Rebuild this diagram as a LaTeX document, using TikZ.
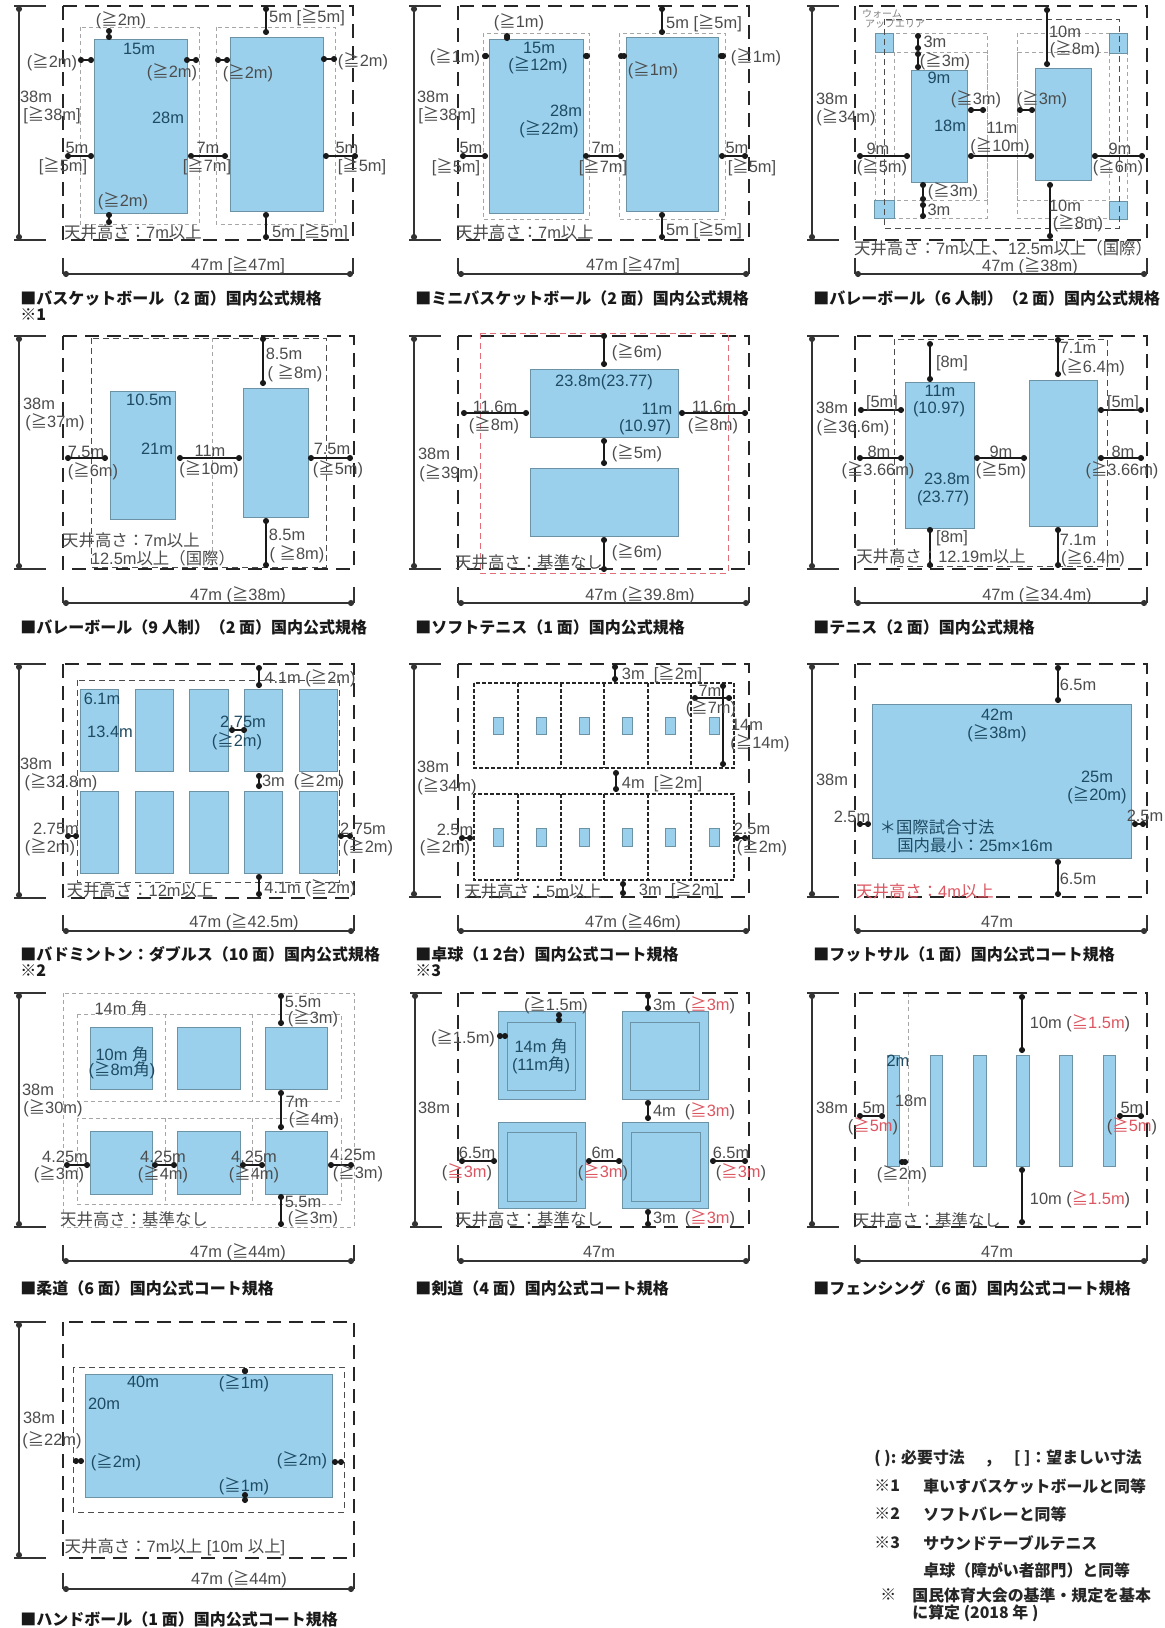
\documentclass[tikz,border=0pt]{standalone}
\usepackage{fontspec}
\setmainfont{Liberation Sans}
\newfontfamily\jpfont{Noto Sans CJK JP}
\usetikzlibrary{arrows.meta}
\tikzset{>={Circle[length=3pt,width=3pt]}}
\definecolor{courtblue}{HTML}{9AD0EC}
\definecolor{courtedge}{HTML}{6C92A6}
\definecolor{labgray}{HTML}{4C4C4C}
\definecolor{labdark}{HTML}{1E4A62}
\definecolor{labred}{HTML}{DC5560}
\newcommand{\J}[1]{{\jpfont #1}}
\newcommand{\GE}{{\jpfont ≧}}
\newcommand{\GM}[1]{(\GE #1)}
\newcommand{\GB}[1]{[\GE #1]}
\newcommand{\RED}[1]{\textcolor{labred}{#1}}
\newcommand{\CEIL}{\J{天井高さ：}}
\newcommand{\SCALES}[6]{%
  \draw[scaleline] (#1-5,#3) -- (#1+27,#3);
  \draw[scaleline] (#1-5,#5) -- (#1+27,#5);
  \draw[{>}-{>},scaleline] (#1,#3) -- (#1,#5);
  \draw[scaleline] (#2,#6-16) -- (#2,#6);
  \draw[scaleline] (#4,#6-16) -- (#4,#6);
  \draw[{>}-{>},scaleline] (#2,#6) -- (#4,#6);
}
\tikzset{
  outer/.style={draw=black!85,line width=.8pt,dash pattern=on 7pt off 4pt},
  inner/.style={draw=black!70,line width=.5pt,dash pattern=on 3pt off 2pt},
  cell/.style={draw=black!85,line width=.7pt,dash pattern=on 2pt off 1pt},
  soft/.style={draw=black!35,line width=.5pt,dash pattern=on 2pt off 1.6pt},
  redline/.style={draw=labred!85,line width=.5pt,dash pattern=on 3pt off 2pt},
  court/.style={fill=courtblue,draw=courtedge,line width=.4pt},
  scaleline/.style={draw=black!80,line width=.8pt},
  dimline/.style={draw=black!90,line width=.7pt,{>}-{>}},
  lab/.style={text=labgray,inner sep=0pt,font=\fontsize{8.2}{10}\selectfont},
  labin/.style={lab,text=labdark},
  labred/.style={lab,text=labred},
  tiny/.style={text=black!50,inner sep=0pt,font=\fontsize{5}{6}\selectfont\jpfont},
  caption/.style={anchor=west,inner sep=0pt,text=black!90,font=\fontsize{8}{9}\selectfont\jpfont\bfseries},
  note/.style={anchor=west,inner sep=0pt,text=black!85,font=\fontsize{7.95}{9}\selectfont\jpfont\bfseries},
}
\begin{document}
\begin{tikzpicture}[x=.5pt,y=-.5pt]
  \useasboundingbox (0,0) rectangle (1164,1628);
  \fill[white] (0,0) rectangle (1164,1628);

  %% basketball
  \draw[soft] (80,27) rectangle (199,224);
  \draw[soft] (216,27) rectangle (335,224);
  \draw[court] (94,39) rectangle (187,213);
  \draw[court] (230,37) rectangle (323,211);
  \draw[outer] (63,6) rectangle (353,240);
  \SCALES{19}{63}{6}{353}{240}{274}
  \draw[dimline] (109,28) -- (109,40);
  \draw[dimline] (78,60) -- (94,60);
  \draw[dimline] (184,60) -- (199,60);
  \draw[dimline] (215,60) -- (230,60);
  \draw[dimline] (321,59) -- (337,59);
  \draw[dimline] (266,6) -- (266,35);
  \draw[dimline] (266,212) -- (266,240);
  \draw[dimline] (65,156) -- (94,156);
  \draw[dimline] (188,156) -- (228,156);
  \draw[dimline] (323,156) -- (358,156);
  \draw[dimline] (109,212) -- (109,225);
  \node[lab] (b1) at (121,20) {\GM{2m}};
  \node[lab] (b2) at (52,62) {\GM{2m}};
  \node[lab] (b3) at (172,72) {\GM{2m}};
  \node[lab] (b4) at (248,73) {\GM{2m}};
  \node[lab] (b5) at (363,61) {\GM{2m}};
  \node[lab] (b6) at (307,17) {5m \GB{5m}};
  \node[lab] (b7) at (310,232) {5m \GB{5m}};
  \node[lab] (b8) at (77,148) {5m};
  \node[lab] (b9) at (63,166) {\GB{5m}};
  \node[lab] (b10) at (208,148) {7m};
  \node[lab] (b11) at (207,166) {\GB{7m}};
  \node[lab] (b12) at (347,148) {5m};
  \node[lab] (b13) at (362,166) {\GB{5m}};
  \node[lab] (b14) at (123,201) {\GM{2m}};
  \node[labin] (b15) at (139,49) {15m};
  \node[labin] (b16) at (168,118) {28m};
  \node[lab] (b17) at (36,97) {38m};
  \node[lab] (b18) at (52,115) {\GB{38m}};
  \node[lab] (b19) at (133,232) {\CEIL 7m\J{以上}};
  \node[lab] (b20) at (238,265) {47m \GB{47m}};
  \node[caption] (b21) at (20,298) {■バスケットボール（2 面）国内公式規格};
  \node[caption] (b22) at (20,315) {※1};

  %% mini basketball
  \draw[soft] (483,33) rectangle (589,219);
  \draw[soft] (619,33) rectangle (725,219);
  \draw[court] (489,39) rectangle (583,213);
  \draw[court] (626,37) rectangle (718,211);
  \draw[outer] (458,6) rectangle (749,240);
  \SCALES{414}{458}{6}{749}{240}{274}
  \draw[dimline] (507,33) -- (507,41);
  \draw[dimline] (482,56) -- (489,56);
  \draw[dimline] (583,56) -- (590,56);
  \draw[dimline] (618,56) -- (627,56);
  \draw[dimline] (718,56) -- (726,56);
  \draw[dimline] (662,6) -- (662,35);
  \draw[dimline] (662,212) -- (662,240);
  \draw[dimline] (460,156) -- (488,156);
  \draw[dimline] (583,156) -- (624,156);
  \draw[dimline] (719,156) -- (748,156);
  \node[lab] (m1) at (519,22) {\GM{1m}};
  \node[lab] (m2) at (455,57) {\GM{1m}};
  \node[lab] (m3) at (653,70) {\GM{1m}};
  \node[lab] (m4) at (756,57) {\GM{1m}};
  \node[lab] (m5) at (704,23) {5m \GB{5m}};
  \node[lab] (m6) at (704,230) {5m \GB{5m}};
  \node[lab] (m7) at (471,148) {5m};
  \node[lab] (m8) at (456,167) {\GB{5m}};
  \node[lab] (m9) at (603,148) {7m};
  \node[lab] (m10) at (603,167) {\GB{7m}};
  \node[lab] (m11) at (737,148) {5m};
  \node[lab] (m12) at (752,167) {\GB{5m}};
  \node[labin] (m13) at (539,48) {15m};
  \node[labin] (m14) at (538,65) {\GM{12m}};
  \node[labin] (m15) at (566,111) {28m};
  \node[labin] (m16) at (549,129) {\GM{22m}};
  \node[lab] (m17) at (433,97) {38m};
  \node[lab] (m18) at (447,115) {\GB{38m}};
  \node[lab] (m19) at (525,232) {\CEIL 7m\J{以上}};
  \node[lab] (m20) at (633,265) {47m \GB{47m}};
  \node[caption] (m21) at (415,298) {■ミニバスケットボール（2 面）国内公式規格};

  %% volleyball six
  \draw[soft] (875,33) rectangle (987,218);
  \draw[soft] (894,52) rectangle (987,200);
  \draw[soft] (1017,33) rectangle (1109,200);
  \draw[soft] (1017,52) rectangle (1127,218);
  \draw[court] (875,33) rectangle (893,52);
  \draw[court] (1109,33) rectangle (1127,53);
  \draw[court] (874,200) rectangle (894,218);
  \draw[court] (1109,201) rectangle (1127,219);
  \draw[court] (911,70) rectangle (967,182);
  \draw[court] (1035,68) rectangle (1091,180);
  \draw[inner] (884,19) rectangle (1119,228);
  \draw[outer] (855,6) rectangle (1147,240);
  \SCALES{812}{855}{6}{1147}{240}{274}
  \draw[dimline] (918,33) -- (918,51);
  \draw[dimline] (918,51) -- (918,70);
  \draw[dimline] (1047,7) -- (1047,67);
  \draw[dimline] (968,110) -- (986,110);
  \draw[dimline] (1017,110) -- (1035,110);
  \draw[dimline] (968,156) -- (1034,156);
  \draw[dimline] (857,156) -- (910,156);
  \draw[dimline] (1092,156) -- (1145,156);
  \draw[dimline] (923,182) -- (923,202);
  \draw[dimline] (923,202) -- (923,219);
  \draw[dimline] (1050,182) -- (1050,239);
  \node[lab] (v1) at (935,42) {3m};
  \node[lab] (v2) at (945,61) {\GM{3m}};
  \node[lab] (v3) at (1065,32) {10m};
  \node[lab] (v4) at (1075,49) {\GM{8m}};
  \node[labin] (v5) at (939,78) {9m};
  \node[labin] (v6) at (950,126) {18m};
  \node[lab] (v7) at (976,99) {\GM{3m}};
  \node[lab] (v8) at (1042,99) {\GM{3m}};
  \node[lab] (v9) at (1002,128) {11m};
  \node[lab] (v10) at (1000,146) {\GM{10m}};
  \node[lab] (v11) at (878,149) {9m};
  \node[lab] (v12) at (882,167) {\GM{5m}};
  \node[lab] (v13) at (1120,149) {9m};
  \node[lab] (v14) at (1118,167) {\GM{6m}};
  \node[lab] (v15) at (953,191) {\GM{3m}};
  \node[lab] (v16) at (939,210) {3m};
  \node[lab] (v17) at (1065,206) {10m};
  \node[lab] (v18) at (1078,223) {\GM{8m}};
  \node[tiny] (v19) at (882,14) {ウォーム};
  \node[tiny] (v20) at (895,24) {アップエリア};
  \node[lab] (v21) at (832,99) {38m};
  \node[lab] (v22) at (846,117) {\GM{34m}};
  \node[lab] (v23) at (1003,248) {\CEIL 7m\J{以上、}12.5m\J{以上（国際）}};
  \node[lab] (v24) at (1030,266) {47m (\GE 38m)};
  \node[caption] (v25) at (813,298) {■バレーボール（6 人制）（2 面）国内公式規格};

  %% volleyball nine
  \draw[soft] (212,338) -- (212,567);
  \draw[court] (110,391) rectangle (175,519);
  \draw[court] (243,388) rectangle (308,517);
  \draw[inner] (91,338) rectangle (326,567);
  \draw[outer] (63,336) rectangle (354,569);
  \SCALES{19}{63}{336}{354}{569}{603}
  \draw[dimline] (263,336) -- (263,386);
  \draw[dimline] (266,518) -- (266,568);
  \draw[dimline] (65,458) -- (108,458);
  \draw[dimline] (177,458) -- (242,458);
  \draw[dimline] (308,458) -- (353,458);
  \node[lab] (w1) at (284,354) {8.5m};
  \node[lab] (w2) at (295,373) {( \GE 8m)};
  \node[lab] (w3) at (287,535) {8.5m};
  \node[lab] (w4) at (297,554) {( \GE 8m)};
  \node[lab] (w5) at (86,452) {7.5m};
  \node[lab] (w6) at (93,471) {\GM{6m}};
  \node[lab] (w7) at (210,451) {11m};
  \node[lab] (w8) at (209,469) {\GM{10m}};
  \node[lab] (w9) at (332,449) {7.5m};
  \node[lab] (w10) at (338,469) {\GM{5m}};
  \node[labin] (w11) at (149,400) {10.5m};
  \node[labin] (w12) at (157,449) {21m};
  \node[lab] (w13) at (39,404) {38m};
  \node[lab] (w14) at (55,422) {\GM{37m}};
  \node[lab] (w15) at (131,540) {\CEIL 7m\J{以上}};
  \node[lab] (w16) at (163,558) {12.5m\J{以上（国際）}};
  \node[lab] (w17) at (238,595) {47m (\GE 38m)};
  \node[caption] (w18) at (20,627) {■バレーボール（9 人制）（2 面）国内公式規格};

  %% soft tennis
  \draw[court] (530,369) rectangle (678,437);
  \draw[court] (530,468) rectangle (678,536);
  \draw[outer] (458,336) rectangle (749,569);
  \draw[redline] (480,333) rectangle (728,573);
  \SCALES{414}{458}{336}{749}{569}{603}
  \draw[dimline] (604,333) -- (604,367);
  \draw[dimline] (604,438) -- (604,466);
  \draw[dimline] (604,537) -- (604,572);
  \draw[dimline] (461,413) -- (529,413);
  \draw[dimline] (679,413) -- (748,413);
  \node[lab] (s1) at (637,352) {\GM{6m}};
  \node[lab] (s2) at (637,453) {\GM{5m}};
  \node[lab] (s3) at (637,552) {\GM{6m}};
  \node[lab] (s4) at (495,407) {11.6m};
  \node[lab] (s5) at (494,425) {\GM{8m}};
  \node[lab] (s6) at (714,407) {11.6m};
  \node[lab] (s7) at (713,425) {\GM{8m}};
  \node[labin] (s8) at (604,382) {23.8m(23.77)};
  \node[labin] (s9) at (657,409) {11m};
  \node[labin] (s10) at (645,427) {(10.97)};
  \node[lab] (s11) at (434,454) {38m};
  \node[lab] (s12) at (449,473) {\GM{39m}};
  \node[lab] (s13) at (529,562) {\CEIL\J{基準なし}};
  \node[lab] (s14) at (640,595) {47m (\GE 39.8m)};
  \node[caption] (s15) at (415,627) {■ソフトテニス（1 面）国内公式規格};

  %% tennis
  \draw[court] (905,382) rectangle (974,528);
  \draw[court] (1029,380) rectangle (1097,526);
  \draw[inner] (894,339) rectangle (1107,566);
  \draw[outer] (855,336) rectangle (1147,569);
  \SCALES{812}{855}{336}{1147}{569}{603}
  \draw[dimline] (930,341) -- (930,382);
  \draw[dimline] (1058,337) -- (1058,377);
  \draw[dimline] (858,410) -- (904,410);
  \draw[dimline] (1098,410) -- (1144,410);
  \draw[dimline] (857,458) -- (904,458);
  \draw[dimline] (974,458) -- (1027,458);
  \draw[dimline] (1098,458) -- (1144,458);
  \draw[dimline] (930,527) -- (930,568);
  \draw[dimline] (1058,527) -- (1058,568);
  \node[lab] (t1) at (952,363) {[8m]};
  \node[lab] (t2) at (1078,348) {7.1m};
  \node[lab] (t3) at (1093,367) {\GM{6.4m}};
  \node[lab] (t4) at (882,403) {[5m]};
  \node[lab] (t5) at (1123,403) {[5m]};
  \node[lab] (t6) at (879,452) {8m};
  \node[lab] (t7) at (878,470) {\GM{3.66m}};
  \node[lab] (t8) at (1001,452) {9m};
  \node[lab] (t9) at (1001,470) {\GM{5m}};
  \node[lab] (t10) at (1123,452) {8m};
  \node[lab] (t11) at (1122,470) {\GM{3.66m}};
  \node[labin] (t12) at (940,391) {11m};
  \node[labin] (t13) at (939,409) {(10.97)};
  \node[labin] (t14) at (947,479) {23.8m};
  \node[labin] (t15) at (943,498) {(23.77)};
  \node[lab] (t16) at (952,538) {[8m]};
  \node[lab] (t17) at (1078,540) {7.1m};
  \node[lab] (t18) at (1093,558) {\GM{6.4m}};
  \node[lab] (t19) at (832,408) {38m};
  \node[lab] (t20) at (853,427) {\GM{36.6m}};
  \node[lab] (t21) at (941,556) {\CEIL 12.19m\J{以上}};
  \node[lab] (t22) at (1037,595) {47m (\GE 34.4m)};
  \node[caption] (t23) at (813,627) {■テニス（2 面）国内公式規格};

  %% badminton
  \draw[court] (80,689) rectangle (118,771);
  \draw[court] (135,689) rectangle (173,771);
  \draw[court] (189,689) rectangle (228,771);
  \draw[court] (244,689) rectangle (282,771);
  \draw[court] (299,689) rectangle (337,771);
  \draw[court] (80,791) rectangle (118,873);
  \draw[court] (135,791) rectangle (173,873);
  \draw[court] (189,791) rectangle (228,873);
  \draw[court] (244,791) rectangle (282,873);
  \draw[court] (299,791) rectangle (337,873);
  \draw[inner] (77,680) rectangle (339,882);
  \draw[outer] (63,664) rectangle (354,898);
  \SCALES{19}{63}{664}{354}{898}{931}
  \draw[dimline] (259,665) -- (259,688);
  \draw[dimline] (259,773) -- (259,789);
  \draw[dimline] (259,874) -- (259,897);
  \draw[dimline] (229,730) -- (247,730);
  \draw[dimline] (65,836) -- (79,836);
  \draw[dimline] (338,836) -- (353,836);
  \node[lab] (d1) at (310,678) {4.1m (\GE 2m)};
  \node[lab] (d2) at (303,781) {3m \ (\GE 2m)};
  \node[lab] (d3) at (310,888) {4.1m (\GE 2m)};
  \node[labin] (d4) at (243,722) {2.75m};
  \node[labin] (d5) at (237,741) {\GM{2m}};
  \node[lab] (d6) at (56,829) {2.75m};
  \node[lab] (d7) at (50,847) {\GM{2m}};
  \node[lab] (d8) at (363,829) {2.75m};
  \node[lab] (d9) at (368,847) {\GM{2m}};
  \node[labin] (d10) at (102,699) {6.1m};
  \node[labin] (d11) at (110,732) {13.4m};
  \node[lab] (d12) at (36,764) {38m};
  \node[lab] (d13) at (61,782) {\GM{32.8m}};
  \node[lab] (d14) at (140,890) {\CEIL 12m\J{以上}};
  \node[lab] (d15) at (244,922) {47m (\GE 42.5m)};
  \node[caption] (d16) at (20,954) {■バドミントン：ダブルス（10 面）国内公式規格};
  \node[caption] (d17) at (20,971) {※2};

  %% table tennis
  \draw[cell] (474,683) rectangle (734,768);
  \draw[cell] (518,683) -- (518,768);
  \draw[cell] (561,683) -- (561,768);
  \draw[cell] (604,683) -- (604,768);
  \draw[cell] (648,683) -- (648,768);
  \draw[cell] (691,683) -- (691,768);
  \draw[cell] (474,794) rectangle (734,880);
  \draw[cell] (518,794) -- (518,880);
  \draw[cell] (561,794) -- (561,880);
  \draw[cell] (604,794) -- (604,880);
  \draw[cell] (648,794) -- (648,880);
  \draw[cell] (691,794) -- (691,880);
  \draw[court] (493,717) rectangle (503,734);
  \draw[court] (536,717) rectangle (546,734);
  \draw[court] (579,717) rectangle (589,734);
  \draw[court] (622,717) rectangle (632,734);
  \draw[court] (665,717) rectangle (675,734);
  \draw[court] (709,717) rectangle (719,734);
  \draw[court] (493,828) rectangle (503,846);
  \draw[court] (536,828) rectangle (546,846);
  \draw[court] (579,828) rectangle (589,846);
  \draw[court] (622,828) rectangle (632,846);
  \draw[court] (665,828) rectangle (675,846);
  \draw[court] (709,828) rectangle (719,846);
  \draw[outer] (458,664) rectangle (749,897);
  \SCALES{414}{458}{664}{749}{897}{931}
  \draw[dimline] (615,664) -- (615,682);
  \draw[dimline] (616,770) -- (616,792);
  \draw[dimline] (623,881) -- (623,896);
  \draw[dimline] (692,698) -- (732,698);
  \draw[dimline] (723,683) -- (723,767);
  \draw[dimline] (459,838) -- (473,838);
  \draw[dimline] (734,838) -- (748,838);
  \node[lab] (k1) at (662,674) {3m \ \GB{2m}};
  \node[lab] (k2) at (662,783) {4m \ \GB{2m}};
  \node[lab] (k3) at (679,890) {3m \ \GB{2m}};
  \node[lab] (k4) at (710,691) {7m};
  \node[lab] (k5) at (711,708) {\GM{7m}};
  \node[lab] (k6) at (747,725) {14m};
  \node[lab] (k7) at (760,743) {\GM{14m}};
  \node[lab] (k8) at (455,830) {2.5m};
  \node[lab] (k9) at (445,847) {\GM{2m}};
  \node[lab] (k10) at (752,829) {2.5m};
  \node[lab] (k11) at (762,847) {\GM{2m}};
  \node[lab] (k12) at (433,767) {38m};
  \node[lab] (k13) at (447,786) {\GM{34m}};
  \node[lab] (k14) at (533,891) {\CEIL 5m\J{以上}};
  \node[lab] (k15) at (633,922) {47m (\GE 46m)};
  \node[caption] (k16) at (415,954) {■卓球（1 2台）国内公式コート規格};
  \node[caption] (k17) at (415,971) {※3};

  %% futsal
  \draw[court] (872,704) rectangle (1131,858);
  \draw[outer] (855,664) rectangle (1147,897);
  \SCALES{812}{855}{664}{1147}{897}{931}
  \draw[dimline] (1058,665) -- (1058,703);
  \draw[dimline] (1058,859) -- (1058,897);
  \draw[dimline] (857,824) -- (871,824);
  \draw[dimline] (1132,824) -- (1146,824);
  \node[lab] (f1) at (1078,685) {6.5m};
  \node[lab] (f2) at (1078,879) {6.5m};
  \node[lab] (f3) at (852,817) {2.5m};
  \node[lab] (f4) at (1145,816) {2.5m};
  \node[labin] (f5) at (997,715) {42m};
  \node[labin] (f6) at (997,733) {\GM{38m}};
  \node[labin] (f7) at (1097,777) {25m};
  \node[labin] (f8) at (1097,795) {\GM{20m}};
  \node[labin] (f9) at (937,827) {\J{＊国際試合寸法}};
  \node[labin] (f10) at (975,845) {\J{国内最小：}25m×16m};
  \node[labred] (f11) at (925,891) {\CEIL 4m\J{以上}};
  \node[lab] (f12) at (832,780) {38m};
  \node[lab] (f13) at (997,922) {47m};
  \node[caption] (f14) at (813,954) {■フットサル（1 面）国内公式コート規格};

  %% judo
  \draw[soft] (63,993) rectangle (354,1227);
  \draw[soft] (77,1014) rectangle (341,1101);
  \draw[soft] (165,1014) -- (165,1101);
  \draw[soft] (252,1014) -- (252,1101);
  \draw[soft] (77,1118) rectangle (341,1204);
  \draw[soft] (165,1118) -- (165,1204);
  \draw[soft] (252,1118) -- (252,1204);
  \draw[court] (90,1027) rectangle (152,1089);
  \draw[court] (177,1027) rectangle (240,1089);
  \draw[court] (265,1027) rectangle (327,1089);
  \draw[court] (90,1131) rectangle (152,1194);
  \draw[court] (177,1131) rectangle (240,1194);
  \draw[court] (265,1131) rectangle (327,1194);
  \SCALES{19}{63}{993}{354}{1227}{1261}
  \draw[dimline] (281,993) -- (281,1026);
  \draw[dimline] (281,1090) -- (281,1130);
  \draw[dimline] (281,1194) -- (281,1227);
  \draw[dimline] (64,1165) -- (90,1165);
  \draw[dimline] (152,1165) -- (177,1165);
  \draw[dimline] (240,1165) -- (265,1165);
  \draw[dimline] (328,1165) -- (354,1165);
  \node[lab] (j1) at (121,1008) {14m \J{角}};
  \node[lab] (j2) at (303,1002) {5.5m};
  \node[lab] (j3) at (313,1018) {\GM{3m}};
  \node[lab] (j4) at (297,1102) {7m};
  \node[lab] (j5) at (314,1119) {\GM{4m}};
  \node[lab] (j6) at (303,1202) {5.5m};
  \node[lab] (j7) at (313,1218) {\GM{3m}};
  \node[lab] (j8) at (65,1157) {4.25m};
  \node[lab] (j9) at (59,1174) {\GM{3m}};
  \node[lab] (j10) at (163,1157) {4.25m};
  \node[lab] (j11) at (163,1174) {\GM{4m}};
  \node[lab] (j12) at (254,1157) {4.25m};
  \node[lab] (j13) at (254,1174) {\GM{4m}};
  \node[lab] (j14) at (353,1155) {4.25m};
  \node[lab] (j15) at (358,1173) {\GM{3m}};
  \node[labin] (j16) at (122,1054) {10m \J{角}};
  \node[labin] (j17) at (122,1070) {(\GE 8m\J{角})};
  \node[lab] (j18) at (38,1090) {38m};
  \node[lab] (j19) at (53,1108) {\GM{30m}};
  \node[lab] (j20) at (134,1219) {\CEIL\J{基準なし}};
  \node[lab] (j21) at (238,1252) {47m (\GE 44m)};
  \node[caption] (j22) at (20,1288) {■柔道（6 面）国内公式コート規格};

  %% kendo
  \draw[court] (498,1011) rectangle (585,1099);
  \draw[court] (622,1011) rectangle (708,1099);
  \draw[court] (498,1122) rectangle (585,1208);
  \draw[court] (622,1122) rectangle (708,1208);
  \draw[court] (507,1022) rectangle (575,1090);
  \draw[court] (630,1022) rectangle (699,1090);
  \draw[court] (507,1132) rectangle (576,1201);
  \draw[court] (631,1132) rectangle (700,1201);
  \draw[outer] (458,993) rectangle (749,1227);
  \SCALES{415}{458}{993}{749}{1227}{1261}
  \draw[dimline] (559,1012) -- (559,1023);
  \draw[dimline] (497,1036) -- (508,1036);
  \draw[dimline] (648,993) -- (648,1011);
  \draw[dimline] (648,1100) -- (648,1121);
  \draw[dimline] (648,1209) -- (648,1227);
  \draw[dimline] (459,1161) -- (497,1161);
  \draw[dimline] (586,1161) -- (622,1161);
  \draw[dimline] (710,1161) -- (748,1161);
  \node[lab] (e1) at (556,1005) {\GM{1.5m}};
  \node[lab] (e2) at (463,1038) {\GM{1.5m}};
  \node[lab] (e3) at (694,1005) {3m \ (\RED{\GE 3m})};
  \node[lab] (e4) at (694,1111) {4m \ (\RED{\GE 3m})};
  \node[lab] (e5) at (694,1218) {3m \ (\RED{\GE 3m})};
  \node[lab] (e6) at (477,1153) {6.5m};
  \node[lab] (e7) at (467,1172) {(\RED{\GE 3m})};
  \node[lab] (e8) at (603,1153) {6m};
  \node[lab] (e9) at (603,1172) {(\RED{\GE 3m})};
  \node[lab] (e10) at (731,1153) {6.5m};
  \node[lab] (e11) at (741,1172) {(\RED{\GE 3m})};
  \node[labin] (e12) at (541,1046) {14m \J{角}};
  \node[labin] (e13) at (541,1065) {(11m\J{角})};
  \node[lab] (e14) at (434,1108) {38m};
  \node[lab] (e15) at (529,1219) {\CEIL\J{基準なし}};
  \node[lab] (e16) at (599,1252) {47m};
  \node[caption] (e17) at (415,1288) {■剣道（4 面）国内公式コート規格};

  %% fencing
  \draw[soft] (908,993) -- (908,1208);
  \draw[court] (887,1055) rectangle (899,1166);
  \draw[court] (930,1055) rectangle (942,1166);
  \draw[court] (973,1055) rectangle (986,1166);
  \draw[court] (1016,1055) rectangle (1029,1166);
  \draw[court] (1059,1055) rectangle (1072,1166);
  \draw[court] (1103,1055) rectangle (1115,1166);
  \draw[outer] (855,993) rectangle (1147,1227);
  \SCALES{812}{855}{993}{1147}{1227}{1261}
  \draw[dimline] (1022,994) -- (1022,1053);
  \draw[dimline] (1022,1167) -- (1022,1225);
  \draw[dimline] (857,1116) -- (885,1116);
  \draw[dimline] (1117,1116) -- (1144,1116);
  \draw[dimline] (899,1162) -- (908,1162);
  \node[lab] (g1) at (1080,1023) {10m (\RED{\GE 1.5m})};
  \node[lab] (g2) at (1080,1199) {10m (\RED{\GE 1.5m})};
  \node[lab] (g3) at (874,1108) {5m};
  \node[lab] (g4) at (873,1126) {(\RED{\GE 5m})};
  \node[lab] (g5) at (1132,1108) {5m};
  \node[lab] (g6) at (1132,1126) {(\RED{\GE 5m})};
  \node[lab] (g7) at (902,1174) {\GM{2m}};
  \node[labin] (g8) at (898,1061) {2m};
  \node[lab] (g9) at (911,1101) {18m};
  \node[lab] (g10) at (832,1108) {38m};
  \node[lab] (g11) at (927,1220) {\CEIL\J{基準なし}};
  \node[lab] (g12) at (997,1252) {47m};
  \node[caption] (g13) at (813,1288) {■フェンシング（6 面）国内公式コート規格};

  %% handball
  \draw[court] (85,1374) rectangle (332,1497);
  \draw[inner] (73,1367) rectangle (344,1512);
  \draw[outer] (63,1322) rectangle (354,1558);
  \SCALES{19}{63}{1322}{354}{1558}{1589}
  \draw[dimline] (245,1368) -- (245,1374);
  \draw[dimline] (245,1498) -- (245,1503);
  \draw[dimline] (73,1461) -- (84,1461);
  \draw[dimline] (332,1462) -- (344,1462);
  \node[labin] (h1) at (143,1382) {40m};
  \node[labin] (h2) at (244,1383) {\GM{1m}};
  \node[labin] (h3) at (104,1404) {20m};
  \node[labin] (h4) at (116,1462) {\GM{2m}};
  \node[labin] (h5) at (302,1460) {\GM{2m}};
  \node[labin] (h6) at (244,1486) {\GM{1m}};
  \node[lab] (h7) at (39,1418) {38m};
  \node[lab] (h8) at (52,1440) {\GM{22m}};
  \node[lab] (h9) at (175,1547) {\CEIL 7m\J{以上} [10m \J{以上}]};
  \node[lab] (h10) at (239,1579) {47m (\GE 44m)};
  \node[caption] (h11) at (20,1619) {■ハンドボール（1 面）国内公式コート規格};

  %% notes
  \node[note] (n1) at (874,1458) {( ): 必要寸法\hspace{3pt}　,　\hspace{3pt}[ ]：望ましい寸法};
  \node[note] (n2) at (874,1486) {※1};
  \node[note] (n3) at (923,1486) {車いすバスケットボールと同等};
  \node[note] (n4) at (874,1514) {※2};
  \node[note] (n5) at (923,1514) {ソフトバレーと同等};
  \node[note] (n6) at (874,1543) {※3};
  \node[note] (n7) at (923,1543) {サウンドテーブルテニス};
  \node[note] (n8) at (923,1570) {卓球（障がい者部門）と同等};
  \node[note] (n9) at (880,1595) {※};
  \node[note] (n10) at (912,1595) {国民体育大会の基準・規定を基本};
  \node[note] (n11) at (912,1613) {に算定 (2018 年 )};

\end{tikzpicture}
\end{document}
